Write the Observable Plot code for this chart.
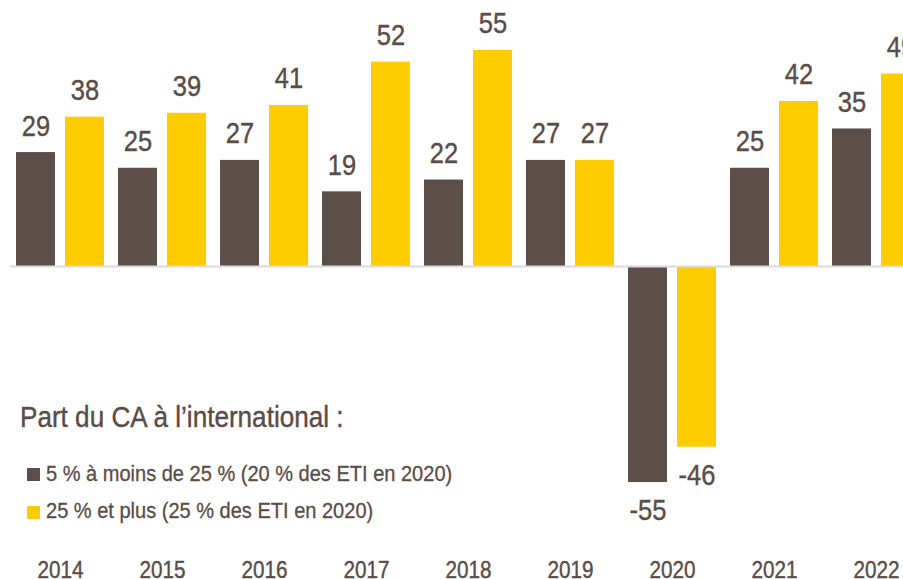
<!DOCTYPE html>
<html>
<head>
<meta charset="utf-8">
<script src="https://cdn.jsdelivr.net/npm/d3@7"></script>
<script src="https://cdn.jsdelivr.net/npm/@observablehq/plot@0.6"></script>
<style>
  html, body { margin: 0; padding: 0; overflow: hidden; background: #fff; }
  body { width: 903px; height: 579px; }
  #wrap { position: relative; width: 903px; height: 579px; overflow: hidden;
          font-family: "Liberation Sans", Arial, sans-serif; color: #5a4c47; }
  #wrap svg { max-width: none !important; display: block; }
  #wrap svg text { stroke: #5a4c47; stroke-width: 0.4px; }
  .ltitle { position: absolute; left: 20px; top: 403px; font-size: 29px; line-height: 29px; white-space: nowrap;
            transform: scaleX(0.9); transform-origin: 0 0; -webkit-text-stroke: 0.4px #5a4c47; }
  .ltext { position: absolute; left: 46px; font-size: 22px; line-height: 22px; white-space: nowrap;
           transform: scaleX(0.91); transform-origin: 0 0; -webkit-text-stroke: 0.3px #5a4c47; }
  .sw { position: absolute; left: 27px; width: 13px; height: 13px; }
</style>
</head>
<body>
<div id="wrap"></div>
<script>
const years = ["2014","2015","2016","2017","2018","2019","2020","2021","2022"];
const seriesNames = ["5 % à moins de 25 % (20 % des ETI en 2020)", "25 % et plus (25 % des ETI en 2020)"];
const darkValues = [29, 25, 27, 19, 22, 27, -55, 25, 35];
const yellowValues = [38, 39, 41, 52, 55, 27, -46, 42, 49];
const colors = ["#5c4f4a", "#ffcc00"];
const legendTitle = "Part du CA à l’international :";

const dark = years.map((y, i) => ({year: y, value: darkValues[i]}));
const yellow = years.map((y, i) => ({year: y, value: yellowValues[i]}));

const textColor = "#5a4c47";
const labelFont = 30;

function labels(data, dx) {
  return [
    Plot.text(data.filter(d => d.value >= 0), {x: "year", y: "value", text: d => String(d.value), dx, dy: -17, lineAnchor: "bottom", fontSize: labelFont, fill: textColor, className: "vlabel"}),
    Plot.text(data.filter(d => d.value < 0), {x: "year", y: "value", text: d => String(d.value), dx, dy: 16, lineAnchor: "top", fontSize: labelFont, fill: textColor, className: "vlabel"})
  ];
}

const chart = Plot.plot({
  width: 926,
  height: 579,
  marginLeft: 10,
  marginRight: 0,
  marginTop: 0,
  marginBottom: 38,
  style: {fontFamily: '"Liberation Sans", Arial, sans-serif', color: textColor, background: "#fff", maxWidth: "none"},
  x: {domain: years, paddingInner: 0.137, paddingOuter: 0.0588, round: false, label: null},
  y: {domain: [-70, 67.7], axis: null},
  marks: [
    Plot.barY(dark, {x: "year", y: "value", fill: colors[0], insetRight: 49}),
    Plot.barY(yellow, {x: "year", y: "value", fill: colors[1], insetLeft: 49}),
    Plot.ruleY([0], {stroke: "#dedada", strokeWidth: 2}),
    ...labels(dark, -24.5),
    ...labels(yellow, 24.5),
    Plot.axisX({anchor: "bottom", tickSize: 0, tickPadding: 20, fontSize: 23, fill: textColor, label: null})
  ]
});

const wrap = document.getElementById("wrap");
wrap.appendChild(chart);

// condense text horizontally (the reference uses a condensed typeface)
chart.querySelectorAll("text").forEach(el => {
  const big = el.closest(".vlabel") !== null || el.classList.contains("vlabel");
  const k = big ? 0.85 : 0.9;
  const len = el.getComputedTextLength();
  if (len > 0) {
    el.setAttribute("textLength", (len * k).toFixed(2));
    el.setAttribute("lengthAdjust", "spacingAndGlyphs");
  }
});

const t = document.createElement("div");
t.className = "ltitle";
t.textContent = legendTitle;
wrap.appendChild(t);
const textTops = [462.5, 499.8];
const swTops = [468, 505.5];
seriesNames.forEach((name, i) => {
  const sw = document.createElement("div");
  sw.className = "sw";
  sw.style.top = swTops[i] + "px";
  sw.style.background = colors[i];
  wrap.appendChild(sw);
  const tx = document.createElement("div");
  tx.className = "ltext";
  tx.style.top = textTops[i] + "px";
  tx.textContent = name;
  wrap.appendChild(tx);
});
</script>
</body>
</html>
